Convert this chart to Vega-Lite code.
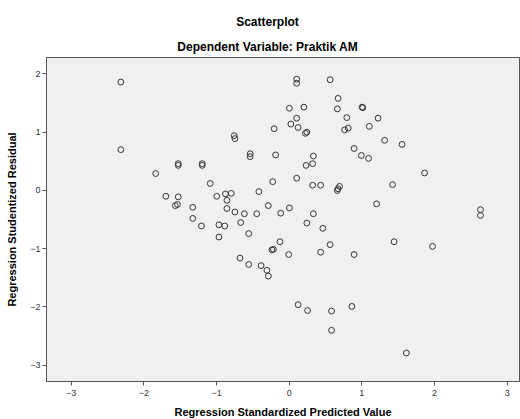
{
  "$schema": "https://vega.github.io/schema/vega-lite/v6.json",
  "width": 473,
  "height": 324,
  "autosize": {"type": "none"},
  "padding": {"left": 46, "top": 57, "right": 1, "bottom": 38},
  "background": "white",
  "title": {
    "text": "Scatterplot",
    "subtitle": "Dependent Variable: Praktik AM",
    "anchor": "middle",
    "frame": "group",
    "dx": -15,
    "font": "Liberation Sans",
    "fontSize": 12,
    "fontWeight": "bold",
    "color": "#000000",
    "subtitleFont": "Liberation Sans",
    "subtitleFontSize": 12,
    "subtitleFontWeight": "bold",
    "subtitleColor": "#000000",
    "subtitlePadding": 13,
    "offset": 3
  },
  "config": {
    "view": {"fill": "#F0F0F0", "stroke": "#555555", "strokeWidth": 1},
    "axis": {
      "grid": false,
      "domainColor": "#555555",
      "tickColor": "#555555",
      "tickSize": 4,
      "labelFont": "Liberation Sans",
      "labelFontSize": 9,
      "labelColor": "#333333",
      "titleFont": "Liberation Sans",
      "titleFontSize": 11,
      "titleFontWeight": "bold",
      "titleColor": "#000000"
    }
  },
  "data": {
    "values": [
      {"x": -2.31, "y": 1.85}, {"x": -2.31, "y": 0.69}, {"x": -0.75, "y": 0.93}, {"x": -0.74, "y": 0.88},
      {"x": -0.20, "y": 1.05}, {"x": -0.53, "y": 0.62}, {"x": -0.53, "y": 0.57}, {"x": -0.18, "y": 0.60},
      {"x": -1.52, "y": 0.45}, {"x": -1.52, "y": 0.42}, {"x": -1.19, "y": 0.45}, {"x": -1.19, "y": 0.42},
      {"x": -1.83, "y": 0.28}, {"x": -1.08, "y": 0.11}, {"x": -0.22, "y": 0.14}, {"x": -1.69, "y": -0.11},
      {"x": -1.52, "y": -0.12}, {"x": -1.56, "y": -0.27}, {"x": -1.53, "y": -0.25}, {"x": -1.32, "y": -0.30},
      {"x": -1.32, "y": -0.49}, {"x": -1.20, "y": -0.62}, {"x": -0.99, "y": -0.11}, {"x": -0.87, "y": -0.07},
      {"x": -0.79, "y": -0.06}, {"x": -0.85, "y": -0.18}, {"x": -0.85, "y": -0.32}, {"x": -0.74, "y": -0.38},
      {"x": -0.61, "y": -0.41}, {"x": -0.44, "y": -0.41}, {"x": -0.41, "y": -0.03}, {"x": -0.28, "y": -0.27},
      {"x": -0.11, "y": -0.40}, {"x": -0.96, "y": -0.60}, {"x": -0.88, "y": -0.62}, {"x": -0.66, "y": -0.56},
      {"x": -0.55, "y": -0.75}, {"x": -0.96, "y": -0.81}, {"x": -0.67, "y": -1.17}, {"x": -0.55, "y": -1.28},
      {"x": -0.38, "y": -1.30}, {"x": -0.30, "y": -1.38}, {"x": -0.28, "y": -1.48}, {"x": -0.23, "y": -1.03},
      {"x": -0.21, "y": -1.02}, {"x": -0.12, "y": -0.89}, {"x": 0.00, "y": -1.11}, {"x": 0.25, "y": -0.57},
      {"x": 0.47, "y": -0.66}, {"x": 0.44, "y": -1.07}, {"x": 0.57, "y": -0.94}, {"x": 0.90, "y": -1.11},
      {"x": 1.45, "y": -0.89}, {"x": 1.98, "y": -0.97}, {"x": 0.13, "y": -1.97}, {"x": 0.26, "y": -2.07},
      {"x": 0.59, "y": -2.08}, {"x": 0.87, "y": -2.00}, {"x": 0.59, "y": -2.41}, {"x": 1.62, "y": -2.80},
      {"x": 0.11, "y": 1.90}, {"x": 0.11, "y": 1.83}, {"x": 0.57, "y": 1.89}, {"x": 0.68, "y": 1.57},
      {"x": 0.01, "y": 1.40}, {"x": 0.21, "y": 1.42}, {"x": 0.67, "y": 1.39}, {"x": 1.01, "y": 1.42},
      {"x": 1.02, "y": 1.41}, {"x": 0.11, "y": 1.23}, {"x": 0.80, "y": 1.24}, {"x": 1.23, "y": 1.23},
      {"x": 0.03, "y": 1.13}, {"x": 0.13, "y": 1.07}, {"x": 0.23, "y": 0.97}, {"x": 0.25, "y": 0.99},
      {"x": 0.77, "y": 1.03}, {"x": 0.82, "y": 1.06}, {"x": 1.11, "y": 1.09}, {"x": 1.32, "y": 0.85},
      {"x": 1.56, "y": 0.78}, {"x": 0.90, "y": 0.71}, {"x": 1.00, "y": 0.59}, {"x": 1.10, "y": 0.54},
      {"x": 0.34, "y": 0.58}, {"x": 0.33, "y": 0.45}, {"x": 0.24, "y": 0.42}, {"x": 1.87, "y": 0.29},
      {"x": 0.11, "y": 0.20}, {"x": 0.33, "y": 0.08}, {"x": 0.44, "y": 0.08}, {"x": 0.70, "y": 0.06},
      {"x": 0.68, "y": 0.02}, {"x": 0.67, "y": -0.01}, {"x": 1.43, "y": 0.09}, {"x": 0.01, "y": -0.31},
      {"x": 0.34, "y": -0.41}, {"x": 1.21, "y": -0.24}, {"x": 2.64, "y": -0.34}, {"x": 2.64, "y": -0.44}
    ]
  },
  "mark": {"type": "point", "shape": "circle", "filled": false, "stroke": "#333333", "strokeWidth": 1, "opacity": 1, "size": 34},
  "encoding": {
    "x": {
      "field": "x", "type": "quantitative",
      "scale": {"domain": [-3.34, 3.17], "nice": false, "zero": false},
      "axis": {"values": [-3, -2, -1, 0, 1, 2, 3], "title": "Regression Standardized Predicted Value", "labelPadding": 3, "titlePadding": 9}
    },
    "y": {
      "field": "y", "type": "quantitative",
      "scale": {"domain": [-3.28, 2.28], "nice": false, "zero": false},
      "axis": {"values": [-3, -2, -1, 0, 1, 2], "title": "Regression Studentized Residual", "labelPadding": 2, "titlePadding": 12}
    }
  }
}
